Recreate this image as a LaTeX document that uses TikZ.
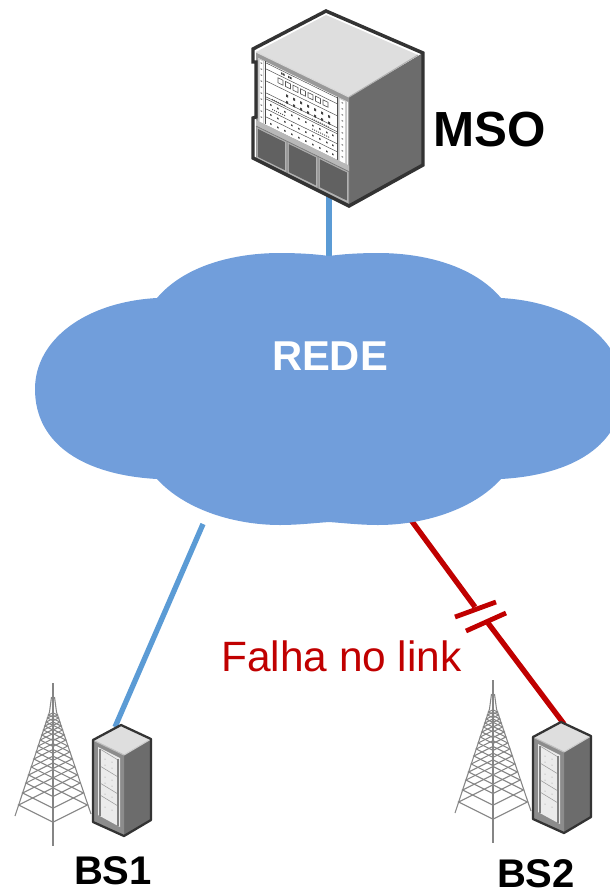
\documentclass[tikz,border=0pt]{standalone}
\usepackage{fontspec}
\setmainfont{Liberation Sans}
\definecolor{linkblue}{HTML}{5B9BD5}
\definecolor{cloudblue}{HTML}{719EDB}
\definecolor{failred}{HTML}{C00000}
\definecolor{racktop}{HTML}{DEDEDE}
\definecolor{rackside}{HTML}{6C6C6C}
\definecolor{rackedge}{HTML}{333333}
\newcommand{\pxpt}[1]{\fontsize{#1}{#1}\selectfont}
\tikzset{
  bluelink/.style={draw=linkblue,line width=4pt},
  redlink/.style={draw=failred,line width=4pt},
  redbar/.style={draw=failred,line width=3.6pt},
  edgeline/.style={draw=rackedge,line width=2.6pt,line join=miter},
  thinedge/.style={draw=rackedge,line width=1.7pt,line join=round},
  towerline/.style={draw=black!48,line width=0.8pt},
  paneline/.style={draw=black!70,line width=0.35pt},
  boldlabel/.style={font=\bfseries\pxpt{30},inner sep=0pt,text=black},
}
% antenna tower: local origin = apex
\newcommand{\drawtower}[2]{%
 \begin{scope}[shift={(#1,#2)}]
  \draw[towerline] (0,0) -- (0,163);
  \draw[towerline] (-1.5,14) -- (-3.5,29) -- (-38,133);
  \draw[towerline] (1.5,14) -- (3.5,29) -- (38,131);
  \foreach \ly in {122,110,100,92,84,76,69,63,57,52,47,43,39,35,32}{
    \pgfmathsetmacro{\lw}{3.5+(\ly-29)*0.332}
    \pgfmathsetmacro{\lf}{\ly+0.5*\lw}
    \pgfmathsetmacro{\lb}{\ly-0.5*\lw}
    \draw[towerline] (-\lw,\ly) -- (0,\lf) -- (\lw,\ly) -- (0,\lb) -- cycle;
  }
 \end{scope}}
% small rack: local origin = BS1 picture coordinates
\newcommand{\drawrack}[2]{%
 \begin{scope}[shift={(#1,#2)}]
  \fill[racktop] (121,725) -- (93,740) -- (124,755) -- (151,739) -- cycle;
  \fill[rackside] (124,755) -- (151,739) -- (151,820) -- (124,836) -- cycle;
  \fill[black!45] (93,740) -- (124,755) -- (124,836) -- (93,822) -- cycle;
  \fill[black!8] (98,747) -- (120,758) -- (120,827) -- (98,815) -- cycle;
  \foreach \v in {0,17,34,46}{
    \draw[black!40,line width=0.4pt] (100,{761-8+\v-4}) -- (118,{761+3+\v-4});
  }
  \foreach \v in {4,10,22,28,39,52}{
    \fill[black!45] (105,{755+\v}) circle (0.5);
    \fill[black!45] (112,{758+\v}) circle (0.5);
  }
  \draw[black!50,line width=0.8pt] (100,749) -- (100,816);
  \draw[black!50,line width=0.8pt] (118,759) -- (118,826);
  \draw[black!20,line width=0.8pt] (124,755) -- (151,739);
  \draw[black!25,line width=0.8pt] (93,740) -- (124,755);
  \draw[thinedge] (121,725) -- (93,740) -- (93,822) -- (124,836) -- (151,820) -- (151,739) -- cycle;
 \end{scope}}
\begin{document}
\begin{tikzpicture}[x=0.75pt,y=-0.75pt]
\useasboundingbox (0,0) rectangle (610,892);
\clip (0,0) rectangle (610,892);
% connector ends
\coordinate (msoBottom) at (329,192);
\coordinate (cloudTop) at (329,258);
\coordinate (cloudBL) at (203,524);
\coordinate (bs1Top) at (115,727);
\coordinate (cloudBR) at (411,520);
\coordinate (gapA) at (475,607);
\coordinate (gapB) at (488,623);
\coordinate (bs2Top) at (564,724);
\coordinate (barA1) at (455,617);
\coordinate (barA2) at (496,602);
\coordinate (barB1) at (466,631);
\coordinate (barB2) at (506,613);
% links
\draw[bluelink] (msoBottom) -- (cloudTop);
\draw[bluelink] (cloudBL) -- (bs1Top);
\draw[redlink] (cloudBR) -- (gapA);
\draw[redlink] (gapB) -- (bs2Top);
\draw[redbar] (barA1) -- (barA2);
\draw[redbar] (barB1) -- (barB2);
% cloud
\fill[cloudblue] (329,256)
  .. controls (343,254) and (361,253) .. (378,253)
  .. controls (423,253) and (473,265) .. (501,298)
  .. controls (573,302) and (623,340) .. (623,389)
  .. controls (623,445) and (573,475) .. (501,479)
  .. controls (473,510) and (423,525) .. (378,525)
  .. controls (361,525) and (343,523) .. (329,522)
  .. controls (315,523) and (297,525) .. (280,525)
  .. controls (235,525) and (185,510) .. (157,479)
  .. controls (85,475) and (35,445) .. (35,389)
  .. controls (35,340) and (85,302) .. (157,298)
  .. controls (185,265) and (235,253) .. (280,253)
  .. controls (297,253) and (315,254) .. (329,256) -- cycle;
\node[font=\bfseries\pxpt{31.3},text=white,inner sep=0pt] (rede) at (330,356) {REDE};
% MSO cabinet
\fill[racktop] (326,15) -- (256,52) -- (349,97) -- (418,55) -- cycle;
\fill[rackside] (349,97) -- (423,53) -- (423,165) -- (349,207) -- cycle;
\fill[black!40] (256,52) -- (349,97) -- (349,207) -- (256,160) -- cycle;
\begin{scope}[shift={(256,52)},cm={1,-0.49,0,1,(0,0)}]
  \fill[white] (2,5) rectangle (92,68);
  \fill[black!22] (2,5) rectangle (8,68);
  \fill[black!22] (82,5) rectangle (91,68);
  \fill[white] (3.5,6) rectangle (7,68);
  \fill[white] (83.5,6) rectangle (89,68);
  \foreach \v in {6,12,24,36,40,42,52,60}{\draw[paneline] (9,\v) -- (81,\v);}
  \draw[paneline] (9,5) -- (9,68);
  \draw[paneline] (81,5) -- (81,68);
  \foreach \v in {8,14,20,26,32,38,44,50,56,62}{
    \fill[black!60] (4.5,\v) rectangle (6,{\v+1});
    \fill[black!60] (85.5,\v) rectangle (87,{\v+1});
  }
  \foreach \u in {22,29.5,37,44.5,52,59.5,67}{\draw[black!65,line width=0.45pt] (\u,15) rectangle ++(5,5);}
  \foreach \u in {25,27,32,34}{\fill[black!75] (\u,8) rectangle ++(1.5,2);}
  \foreach \u in {30,37,44,51,58,65,72}{
    \fill[black!75] (\u,27.5) rectangle ++(2,2.5);
    \fill[black!75] (\u,34) rectangle ++(2,2.5);
  }
  \foreach \u in {14,21,28,35,42,49,56,63,70,76}{
    \fill[black!75] (\u,45) rectangle ++(1.5,1.5);
    \fill[black!75] (\u,55) rectangle ++(1.5,1.5);
    \fill[black!75] (\u,64) rectangle ++(1.5,1.5);
  }
  \foreach \u in {16,18,20,22,24,26,28,56,58,60,62,64,66,68,70,72}{
    \fill[black!65] (\u,39) rectangle ++(1,1);
    \fill[black!65] (\u,49) rectangle ++(1,1);
  }
  \fill[black!28] (0,68) rectangle (93,74);
  \draw[black!55,line width=0.4pt] (0,74) -- (93,74);
  \foreach \u in {1,32,63}{
    \fill[black!30] (\u,75) rectangle ++(29,31);
    \fill[black!62] ({\u+0.8},76) rectangle ++(27,28);
  }
\end{scope}
\draw[black!30,line width=0.8pt] (349,97) -- (418,55);
\draw[black!15,line width=0.8pt] (256,52) -- (349,97);
\draw[edgeline] (326,11) -- (253,49) -- (253,62) -- (256,62) -- (256,117) -- (253,118) -- (253,158) -- (349,206) -- (423,165) -- (423,53) -- cycle;
\node[boldlabel,font=\bfseries\pxpt{37},anchor=west] (mso) at (433,130) {MSO};
% base stations
\drawtower{53}{683}
\drawrack{0}{0}
\drawtower{493}{680}
\drawrack{440}{-3}
\node[boldlabel,font=\bfseries\pxpt{30},anchor=center] (bs1) at (113,871) {BS1};
\node[boldlabel,font=\bfseries\pxpt{30},anchor=center] (bs2) at (536,873.5) {BS2};
\node[font=\pxpt{31.8},text=failred,inner sep=0pt,anchor=west] (fail) at (221,656) {Falha no link};
\end{tikzpicture}
\end{document}
